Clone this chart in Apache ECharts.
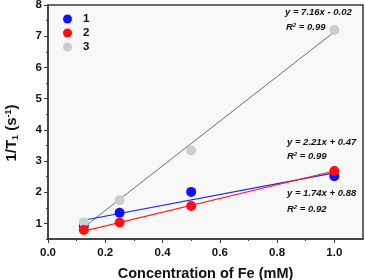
<!DOCTYPE html>
<html><head><meta charset="utf-8">
<script src="https://cdn.jsdelivr.net/npm/echarts@6/dist/echarts.min.js"></script>
<style>html,body{margin:0;padding:0;background:#fff}#c{width:365px;height:280px}</style>
</head><body><div id="c"></div>
<script>
const concentrations = [0.125, 0.25, 0.5, 1.0];
const series1 = [0.92, 1.34, 2.01, 2.51];
const series2 = [0.79, 1.03, 1.56, 2.68];
const series3 = [1.04, 1.74, 3.34, 7.2];
const fitX = [0.125, 1.0];
const fit1 = [1.10, 2.62];
const fit2 = [0.75, 2.68];
const fit3 = [0.875, 7.14];
const xTicks = [0, 0.2, 0.4, 0.6, 0.8, 1.0];
const yTicks = [1, 2, 3, 4, 5, 6, 7, 8];
const yMinorTicks = [0.5, 1.5, 2.5, 3.5, 4.5, 5.5, 6.5, 7.5];
const legendNames = ['1', '2', '3'];

const FONT = 'Liberation Sans, Arial, sans-serif';
const pair = (xs, ys) => xs.map((x, i) => [x, ys[i]]);
const colors = ['#1010ff', '#ff1010', '#c9cfcf'];
const lineColors = ['#2020ee', '#ff2020', '#5f7373'];

const chart = echarts.init(document.getElementById('c'), null, {renderer: 'canvas'});
const ann = (txt, x, y) => ({
  type: 'text', left: x, top: y,
  style: {text: txt, font: 'italic bold 9.5px ' + FONT, fill: '#111',
    rich: {b: {font: 'italic bold 9.5px ' + FONT, fill: '#111'},
           sup: {font: 'italic bold 6px ' + FONT, fill: '#111', verticalAlign: 'top', padding: [0,0,5,0]}}}
});
chart.setOption({
  animation: false,
  backgroundColor: '#ffffff',
  grid: {left: 48, top: 5, right: 2, bottom: 41, containLabel: false, outerBoundsMode: 'none',
    show: true, backgroundColor: '#f8f8f8', borderColor: '#3a3a3a', borderWidth: 1.5},
  legend: {
    data: legendNames, orient: 'vertical', left: 58, top: 8,
    itemWidth: 9, itemHeight: 9, itemGap: 2, icon: 'circle',
    textStyle: {fontFamily: FONT, fontWeight: 'bold', fontSize: 11.5, color: '#111', padding: [0,0,0,6]}
  },
  xAxis: {
    type: 'value', min: 0, max: 1.1, interval: 0.2,
    name: 'Concentration of Fe (mM)', nameLocation: 'middle', nameGap: 27,
    nameTextStyle: {fontFamily: FONT, fontWeight: 'bold', fontSize: 14.5, color: '#111'},
    axisLine: {show: true, lineStyle: {color: '#3a3a3a', width: 1.5}},
    axisTick: {show: true, length: 4, lineStyle: {color: '#3a3a3a'}, customValues: xTicks},
    minorTick: {show: true, splitNumber: 2, length: 2, lineStyle: {color: '#3a3a3a'}},
    axisLabel: {fontFamily: FONT, fontWeight: 'bold', fontSize: 11.5, color: '#111', margin: 8,
      customValues: xTicks, formatter: v => v.toFixed(1)},
    splitLine: {show: false}
  },
  yAxis: [{
    type: 'value', min: 0.5, max: 8, interval: 0.5,
    name: '{a|1/T}{s|1}{a| (s}{p|-1}{a|)}', nameLocation: 'middle', nameGap: 28,
    nameTextStyle: {fontFamily: FONT, fontWeight: 'bold', fontSize: 15, color: '#111', padding: [0, 22, 0, 0],
      rich: {a: {fontFamily: FONT, fontWeight: 'bold', fontSize: 15, color: '#111'},
             s: {fontFamily: FONT, fontWeight: 'bold', fontSize: 9, color: '#111', verticalAlign: 'bottom', padding: [7,0,0,0]},
             p: {fontFamily: FONT, fontWeight: 'bold', fontSize: 9, color: '#111', verticalAlign: 'top', padding: [0,0,7,0]}}},
    axisLine: {show: true, lineStyle: {color: '#3a3a3a', width: 1.5}},
    axisTick: {show: true, length: 4, lineStyle: {color: '#3a3a3a'}, customValues: yTicks},
    axisLabel: {fontFamily: FONT, fontWeight: 'bold', fontSize: 11.5, color: '#111', margin: 6, customValues: yTicks},
    splitLine: {show: false}
  }, {
    type: 'value', min: 0.5, max: 8, interval: 0.5, position: 'left',
    axisLine: {show: false},
    axisTick: {show: true, length: 2, lineStyle: {color: '#3a3a3a'}, customValues: yMinorTicks},
    axisLabel: {show: false}, splitLine: {show: false}
  }],
  series: [
    {type: 'line', data: pair(fitX, fit3), symbol: 'none', lineStyle: {color: lineColors[2], width: 1}, z: 2, silent: true},
    {type: 'line', data: pair(fitX, fit1), symbol: 'none', lineStyle: {color: lineColors[0], width: 1.2}, z: 2, silent: true},
    {type: 'line', data: pair(fitX, fit2), symbol: 'none', lineStyle: {color: lineColors[1], width: 1.2}, z: 2, silent: true},
    {name: '1', type: 'scatter', data: pair(concentrations, series1), symbolSize: 10, itemStyle: {color: colors[0], opacity: 1}, z: 3},
    {name: '3', type: 'scatter', data: pair(concentrations, series3), symbolSize: 10, itemStyle: {color: colors[2], opacity: 1}, z: 4},
    {name: '2', type: 'scatter', data: pair(concentrations, series2), symbolSize: 10, itemStyle: {color: colors[1], opacity: 1}, z: 5}
  ],
  graphic: [
    ann('y = 7.16x - 0.02', 285, 7),
    ann('{b|R}{sup|2}{b| = 0.99}', 286, 22),
    ann('y = 2.21x + 0.47', 287, 137),
    ann('{b|R}{sup|2}{b| = 0.99}', 287, 151),
    ann('y = 1.74x + 0.88', 287, 188),
    ann('{b|R}{sup|2}{b| = 0.92}', 287, 204)
  ]
});
</script></body></html>
